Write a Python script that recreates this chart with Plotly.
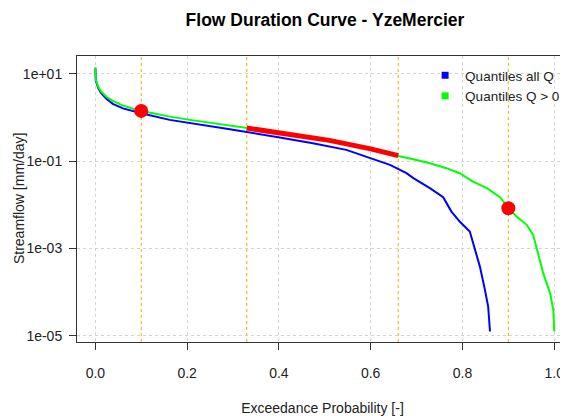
import plotly.graph_objects as go

# Exceedance probability / streamflow (mm/day)
p_all = [0.0, 0.001, 0.006, 0.013, 0.024, 0.038, 0.060, 0.082, 0.100, 0.162, 0.256, 0.293,
         0.402, 0.474, 0.547, 0.598, 0.642, 0.678, 0.693, 0.729, 0.758, 0.776, 0.794,
         0.816, 0.823, 0.838, 0.849, 0.856, 0.860]
q_all = [13.9, 7.0, 4.78, 3.57, 2.68, 2.06, 1.62, 1.38, 1.25, 0.885, 0.628, 0.542,
         0.348, 0.259, 0.182, 0.121, 0.0824, 0.0532, 0.0409, 0.0242, 0.0150, 0.00703, 0.00415,
         0.00245, 0.00133, 0.000386, 0.000113, 4.7e-5, 1.26e-5]

p_pos = [0.0, 0.001, 0.006, 0.013, 0.024, 0.038, 0.060, 0.082, 0.100, 0.126, 0.162, 0.206,
         0.256, 0.329, 0.402, 0.511, 0.598, 0.660, 0.693, 0.729, 0.765, 0.794, 0.823,
         0.853, 0.882, 0.900, 0.918, 0.940, 0.954, 0.962, 0.976, 0.991, 0.998, 1.000]
q_pos = [13.9, 7.3, 5.1, 3.9, 3.0, 2.41, 1.88, 1.58, 1.42, 1.26, 1.05, 0.885,
         0.743, 0.589, 0.439, 0.308, 0.199, 0.132, 0.111, 0.090, 0.0693, 0.0532, 0.0342,
         0.0242, 0.0150, 0.00841, 0.0054, 0.0035, 0.00206, 0.00093, 0.000273, 9.5e-5, 3.9e-5, 1.26e-5]

ref_p = [0.1, 0.9]
ref_q = [1.42, 0.0084]

seg_p = [0.33, 0.40, 0.51, 0.60, 0.66]
seg_q = [0.575, 0.435, 0.300, 0.192, 0.134]

vlines = [0.1, 0.33, 0.66, 0.9]

xtick_vals = [0.0, 0.2, 0.4, 0.6, 0.8, 1.0]
xtick_text = ["0.0", "0.2", "0.4", "0.6", "0.8", "1.0"]
ytick_vals = [1e1, 1e-1, 1e-3, 1e-5]
ytick_text = ["1e+01", "1e-01", "1e-03", "1e-05"]

FONT = "Arial, Liberation Sans, sans-serif"

fig = go.Figure()
fig.add_trace(go.Scatter(x=p_all, y=q_all, mode="lines", line=dict(color="#0000FF", width=2),
                         showlegend=False))
fig.add_trace(go.Scatter(x=p_pos, y=q_pos, mode="lines", line=dict(color="#00FF00", width=2),
                         showlegend=False))
fig.add_trace(go.Scatter(x=seg_p, y=seg_q, mode="lines", line=dict(color="#FF0000", width=5),
                         showlegend=False))
fig.add_trace(go.Scatter(x=ref_p, y=ref_q, mode="markers", marker=dict(color="#FF0000", size=14),
                         showlegend=False))
# legend-only entries
fig.add_trace(go.Scatter(x=[None], y=[None], mode="markers", name="Quantiles all Q",
                         marker=dict(symbol="square", color="#0000FF", size=7)))
fig.add_trace(go.Scatter(x=[None], y=[None], mode="markers", name="Quantiles Q > 0",
                         marker=dict(symbol="square", color="#00FF00", size=7)))

for v in vlines:
    fig.add_shape(type="line", xref="x", yref="paper", x0=v, x1=v, y0=0, y1=1,
                  line=dict(color="#FFA500", width=1, dash="dot"), layer="below")

# y-axis title as a rotated annotation (it sits close to the tick labels, as in the reference)
fig.add_annotation(text="Streamflow [mm/day]", textangle=-90, xref="paper", yref="paper",
                   x=-0.118, y=0.5, xanchor="center", yanchor="middle", showarrow=False,
                   font=dict(size=14, color="#222222"))

# page has an 8px body margin: figure is 560x408 so it fits the 568x416 window
fig.update_layout(
    width=560, height=408,
    margin=dict(l=69, r=0, t=48, b=74, autoexpand=False),
    plot_bgcolor="white", paper_bgcolor="white",
    font=dict(family=FONT, size=14, color="#222222"),
    title=dict(text="<b>Flow Duration Curve - YzeMercier</b>", x=317/560, xref="container",
               xanchor="center", y=1 - 12/408, yref="container", yanchor="middle",
               font=dict(size=17.5, color="#000000")),
    legend=dict(x=0.709, y=0.986, xanchor="left", yanchor="top", bgcolor="rgba(0,0,0,0)",
                font=dict(size=13.5, color="#222222"), tracegroupgap=0, itemwidth=30),
    xaxis=dict(range=[-0.04, 1.03], tickvals=xtick_vals, ticktext=xtick_text,
               showgrid=True, gridcolor="#D3D3D3", griddash="dot", gridwidth=1,
               zeroline=False, showline=True, linecolor="#333333", linewidth=1, mirror=True,
               ticks="outside", ticklen=7, tickcolor="#333333", ticklabelstandoff=11,
               automargin=False, tickfont=dict(size=14),
               title=dict(text="Exceedance Probability [-]", standoff=24, font=dict(size=14))),
    yaxis=dict(type="log", range=[-5.14, 1.41], tickvals=ytick_vals, ticktext=ytick_text,
               showgrid=True, gridcolor="#D3D3D3", griddash="dot", gridwidth=1,
               zeroline=False, showline=True, linecolor="#333333", linewidth=1,
               ticks="outside", ticklen=7, tickcolor="#333333", ticklabelstandoff=4,
               automargin=False, tickfont=dict(size=14)),
)

fig.write_html("out.html")
